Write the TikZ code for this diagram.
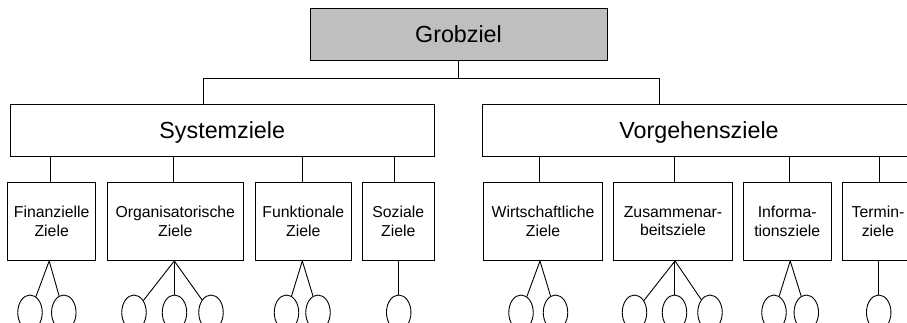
\documentclass[tikz,border=0pt]{standalone}
\usepackage{fontspec}
\setmainfont{Liberation Sans}
\usetikzlibrary{shapes.geometric}
\begin{document}
\begin{tikzpicture}[x=1pt,y=-1pt,line width=0.9pt,
  goal/.style={draw,minimum height=52pt,inner sep=0pt,
    font=\fontsize{23.3}{28}\selectfont,text height=16.8pt,text depth=0pt},
  sub/.style={draw,minimum height=78.5pt,inner sep=0pt,align=center,
    font=\fontsize{15.8}{18.4}\selectfont},
  leaf/.style={draw,ellipse,minimum width=24.5pt,minimum height=35pt,inner sep=0pt}]
\useasboundingbox (0,0) rectangle (907,322);
\clip (0,0) rectangle (907,322);

% top level
\node[goal,fill=black!25,minimum width=297pt] (g) at (458.5,34) {Grobziel};

% second level
\node[goal,minimum width=423.5pt] (sys) at (222.25,130) {Systemziele};
\node[goal,minimum width=434pt] (vorg) at (699,130) {Vorgehensziele};

% third level
\node[sub,minimum width=88pt]    (b1) at (51.7,221.25)  {Finanzielle\\Ziele};
\node[sub,minimum width=136pt]   (b2) at (175.3,221.25) {Organisatorische\\Ziele};
\node[sub,minimum width=96pt]    (b3) at (303.3,221.25) {Funktionale\\Ziele};
\node[sub,minimum width=72pt]    (b4) at (398.3,221.25) {Soziale\\Ziele};
\node[sub,minimum width=119.4pt] (b5) at (543,221.25)   {Wirtschaftliche\\Ziele};
\node[sub,minimum width=119.4pt] (b6) at (673,221.25)   {Zusammenar-\\beitsziele};
\node[sub,minimum width=87.7pt]  (b7) at (787.2,221.25) {Informa-\\tionsziele};
\node[sub,minimum width=72pt]    (b8) at (878,221.25)   {Termin-\\ziele};

% leaves
\node[leaf] (c1)  at (30,312.5) {};
\node[leaf] (c2)  at (63.8,312.5) {};
\node[leaf] (c3)  at (134,312.5) {};
\node[leaf] (c4)  at (174.5,312.5) {};
\node[leaf] (c5)  at (211,312.5) {};
\node[leaf] (c6)  at (286.5,312.5) {};
\node[leaf] (c7)  at (318,312.5) {};
\node[leaf] (c8)  at (398.7,312.5) {};
\node[leaf] (c9)  at (521,312.5) {};
\node[leaf] (c10) at (555.5,312.5) {};
\node[leaf] (c11) at (634.5,312.5) {};
\node[leaf] (c12) at (674.5,312.5) {};
\node[leaf] (c13) at (710,312.5) {};
\node[leaf] (c14) at (774,312.5) {};
\node[leaf] (c15) at (806.3,312.5) {};
\node[leaf] (c16) at (878.7,312.5) {};

% Grobziel to second level
\coordinate (hl) at (203,78);
\coordinate (hr) at (659,78);
\draw (g.south) -- (g.south |- hl);
\draw (hl |- sys.north) -- (hl) -- (hr) -- (hr |- vorg.north);

% second level to third level
\draw ([xshift=-1.7pt]b1.north) -- ([xshift=-1.7pt]b1.north |- sys.south);
\draw ([xshift=-2.3pt]b2.north) -- ([xshift=-2.3pt]b2.north |- sys.south);
\draw ([xshift=-1.3pt]b3.north) -- ([xshift=-1.3pt]b3.north |- sys.south);
\draw ([xshift=-4.3pt]b4.north) -- ([xshift=-4.3pt]b4.north |- sys.south);
\draw ([xshift=-4pt]b5.north) -- ([xshift=-4pt]b5.north |- vorg.south);
\draw ([xshift=1pt]b6.north) -- ([xshift=1pt]b6.north |- vorg.south);
\draw ([xshift=1.8pt]b7.north) -- ([xshift=1.8pt]b7.north |- vorg.south);
\draw ([xshift=1pt]b8.north) -- ([xshift=1pt]b8.north |- vorg.south);

% third level to leaves
\draw (c1) -- ([xshift=-2.5pt]b1.south) -- (c2);
\draw (c3) -- ([xshift=-1pt]b2.south) -- (c5);
\draw (c4.north) -- (c4.north |- b2.south);
\draw (c6) -- ([xshift=-1pt]b3.south) -- (c7);
\draw (c8.north) -- (c8.north |- b4.south);
\draw (c9) -- ([xshift=-3pt]b5.south) -- (c10);
\draw (c11) -- ([xshift=2pt]b6.south) -- (c13);
\draw (c12.north) -- (c12.north |- b6.south);
\draw (c14) -- ([xshift=3pt]b7.south) -- (c15);
\draw (c16.north) -- (c16.north |- b8.south);
\end{tikzpicture}
\end{document}
